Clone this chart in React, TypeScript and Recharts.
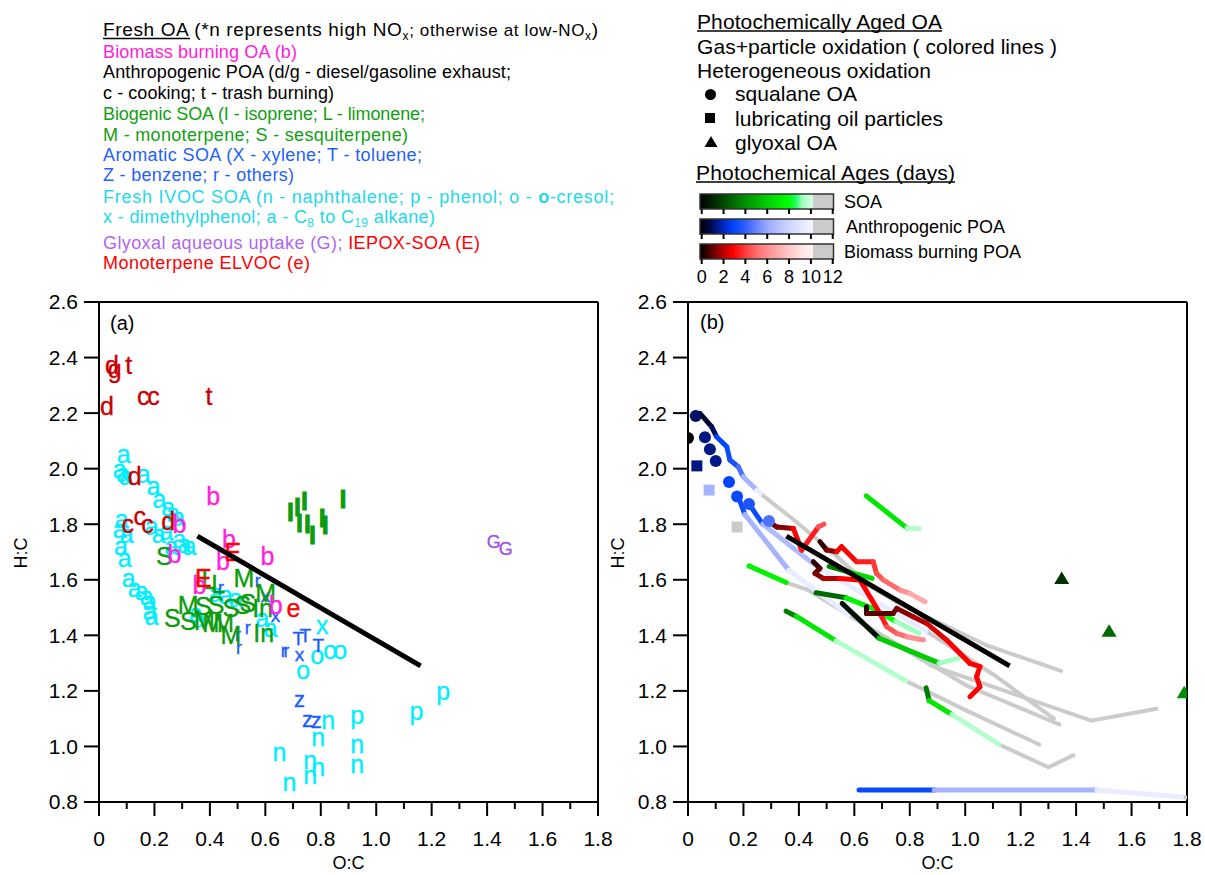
import React from 'react';
import { ScatterChart, Scatter, XAxis, YAxis, ReferenceLine } from 'recharts';

const FONT = '"Liberation Sans", Arial, Helvetica, sans-serif';

type L = [number, number, string];
type P = [number, number, number];

// ---------- Panel (a): fresh OA letters [O:C, H:C, letter] ----------
const ivocLetters: L[] = [
  [0.089, 2.052, 'a'], [0.075, 1.999, 'a'], [0.086, 1.985, 'a'], [0.097, 1.974, 'a'], [0.161, 1.981, 'a'],
  [0.197, 1.938, 'a'], [0.218, 1.891, 'a'], [0.25, 1.863, 'a'], [0.268, 1.841, 'a'], [0.286, 1.827, 'a'],
  [0.082, 1.82, 'a'], [0.075, 1.784, 'a'], [0.1, 1.766, 'a'], [0.19, 1.795, 'a'], [0.215, 1.766, 'a'],
  [0.243, 1.777, 'a'], [0.29, 1.748, 'a'], [0.308, 1.73, 'a'], [0.261, 1.723, 'a'], [0.326, 1.72, 'a'],
  [0.079, 1.72, 'a'], [0.093, 1.677, 'a'], [0.107, 1.605, 'a'], [0.129, 1.569, 'a'], [0.154, 1.559, 'a'],
  [0.172, 1.541, 'a'], [0.183, 1.523, 'a'], [0.183, 1.487, 'a'], [0.19, 1.469, 'a'],
  [0.422, 1.551, 'a'], [0.458, 1.544, 'a'], [0.494, 1.533, 'a'], [0.59, 1.462, 'a'], [0.619, 1.426, 'a'],
  [0.35, 1.48, 'a'], [0.36, 1.46, 'a'],
  [0.805, 1.437, 'x'],
  [0.787, 1.33, 'o'], [0.834, 1.347, 'o'], [0.87, 1.347, 'o'], [0.737, 1.276, 'o'],
  [0.931, 1.115, 'p'], [1.145, 1.129, 'p'], [1.242, 1.201, 'p'],
  [0.827, 1.094, 'n'], [0.791, 1.033, 'n'], [0.931, 1.008, 'n'], [0.651, 0.979, 'n'], [0.762, 0.95, 'n'],
  [0.791, 0.925, 'n'], [0.931, 0.936, 'n'], [0.762, 0.896, 'n'], [0.687, 0.871, 'n'],
];

const aromaticLetters: L[] = [
  [0.573, 1.594, 'r'], [0.44, 1.569, 'r'], [0.601, 1.544, 'x'], [0.637, 1.473, 'x'], [0.501, 1.401, 'r'],
  [0.505, 1.355, 'r'], [0.537, 1.426, 'r'], [0.719, 1.39, 'T'], [0.744, 1.4, 'T'], [0.666, 1.344, 'r'],
  [0.676, 1.344, 'r'], [0.723, 1.33, 'x'], [0.791, 1.362, 'T'],
  [0.723, 1.168, 'z'], [0.752, 1.097, 'z'], [0.784, 1.094, 'z'],
];

const biogenicLetters: L[] = [
  [0.691, 1.845, 'I'], [0.716, 1.863, 'I'], [0.723, 1.805, 'I'], [0.741, 1.884, 'I'], [0.752, 1.802, 'I'],
  [0.77, 1.763, 'I'], [0.805, 1.823, 'I'], [0.816, 1.798, 'I'], [0.88, 1.891, 'I'],
  [0.236, 1.687, 'S'], [0.395, 1.6, 'L'], [0.43, 1.585, 'L'],
  [0.523, 1.605, 'M'], [0.601, 1.551, 'M'],
  [0.322, 1.508, 'M'], [0.376, 1.505, 'S'], [0.422, 1.508, 'S'], [0.476, 1.498, 'S'], [0.519, 1.508, 'S'],
  [0.537, 1.515, 'S'], [0.59, 1.498, 'In'],
  [0.265, 1.462, 'S'], [0.322, 1.45, 'S'], [0.38, 1.451, 'M'], [0.41, 1.445, 'M'], [0.45, 1.445, 'M'],
  [0.476, 1.401, 'M'], [0.594, 1.408, 'In'],
];

const biomassLetters: L[] = [
  [0.412, 1.902, 'b'], [0.29, 1.802, 'b'], [0.272, 1.694, 'b'], [0.469, 1.748, 'b'], [0.447, 1.669, 'b'],
  [0.608, 1.684, 'b'], [0.362, 1.58, 'b'], [0.637, 1.508, 'b'],
];

const poaLetters: L[] = [
  [0.047, 2.375, 'd'], [0.057, 2.36, 'g'], [0.107, 2.375, 't'], [0.16, 2.26, 'c'], [0.197, 2.26, 'c'],
  [0.397, 2.26, 't'], [0.029, 2.224, 'd'], [0.129, 1.974, 'd'],
  [0.147, 1.83, 'c'], [0.104, 1.802, 'c'], [0.175, 1.802, 'c'], [0.25, 1.813, 'd'],
];

const iepoxLetters: L[] = [[0.483, 1.7, 'E'], [0.376, 1.605, 'E']];
const elvocLetters: L[] = [[0.701, 1.5, 'e']];
const glyoxalLetters: L[] = [[1.424, 1.737, 'G'], [1.467, 1.71, 'G']];

// reference line shown in both panels
const blackLine: [number, number][] = [[0.355, 1.757], [1.16, 1.29]];

// ---------- Panel (b): aging trajectories [O:C, H:C, age (days)] ----------
const anthroTrajs: P[][] = [
  [[0.043, 2.199, 0.5], [0.085, 2.151, 1.2], [0.103, 2.115, 3], [0.14, 2.079, 3.3], [0.151, 2.031, 3.5],
    [0.181, 2.007, 4.5], [0.199, 1.971, 6.5], [0.248, 1.923, 9.5], [0.26, 1.911, 11], [0.38, 1.817, 11],
    [0.52, 1.7, 11], [0.65, 1.58, 11], [0.76, 1.515, 11], [1.075, 1.365, 11], [1.346, 1.272, 11]],
  [[0.181, 1.9, 3.3], [0.205, 1.835, 6.5], [0.364, 1.634, 9.5], [0.58, 1.473, 11], [0.88, 1.29, 11],
    [1.455, 1.093, 11], [1.69, 1.136, 11]],
  [[0.22, 1.873, 3.3], [0.27, 1.8, 6.8], [0.462, 1.65, 9.5], [0.859, 1.415, 11], [1.1, 1.26, 11], [1.32, 1.1, 11]],
  [[0.617, 0.843, 3.2], [0.888, 0.843, 6.5], [1.475, 0.843, 9.5], [1.78, 0.818, 11], [1.8, 0.816, 11]],
];

const soaTrajs: P[][] = [
  [[0.643, 1.902, 7], [0.79, 1.786, 9.5], [0.834, 1.784, 11]],
  [[0.22, 1.65, 7.5], [0.354, 1.59, 11], [0.43, 1.565, 11], [0.7, 1.4, 11], [1.003, 1.22, 11], [1.34, 1.079, 11]],
  [[0.462, 1.553, 3], [0.57, 1.535, 7.5], [0.664, 1.498, 8], [0.75, 1.45, 9.2], [0.833, 1.408, 11]],
  [[0.509, 1.648, 3.5], [0.58, 1.628, 6.5], [0.664, 1.605, 11]],
  [[0.556, 1.515, 0.5], [0.689, 1.39, 6], [0.906, 1.3, 9.3], [0.978, 1.318, 11]],
  [[0.354, 1.487, 3.5], [0.39, 1.469, 7], [0.534, 1.38, 9.5], [0.786, 1.236, 11], [0.859, 1.2, 11],
    [1.003, 1.13, 11], [1.267, 1.007, 11]],
  [[0.859, 1.211, 3.5], [0.87, 1.165, 7], [0.952, 1.115, 9.5], [1.122, 1.007, 11], [1.3, 0.925, 11], [1.39, 0.968, 11]],
];

const biomassTrajs: P[][] = [
  [[0.29, 1.81, 0.8], [0.32, 1.79, 1.5], [0.38, 1.785, 3], [0.41, 1.707, 3.5], [0.47, 1.79, 4.5], [0.49, 1.8, 6]],
  [[0.476, 1.737, 0.5], [0.5, 1.707, 1.5], [0.536, 1.701, 3], [0.554, 1.719, 3], [0.608, 1.665, 3.5],
    [0.668, 1.665, 4], [0.68, 1.623, 4.5], [0.704, 1.6, 5], [0.765, 1.563, 6], [0.8, 1.551, 7], [0.855, 1.521, 8]],
  [[0.452, 1.665, 0.5], [0.476, 1.641, 1], [0.458, 1.623, 1.5], [0.488, 1.605, 2], [0.548, 1.605, 3],
    [0.62, 1.599, 3], [0.692, 1.479, 3.5], [0.717, 1.431, 4.5], [0.753, 1.407, 5], [0.789, 1.395, 6], [0.849, 1.383, 7]],
  [[0.644, 1.503, 0.5], [0.644, 1.479, 1], [0.74, 1.479, 1.2], [0.753, 1.497, 1.5], [0.812, 1.467, 2],
    [0.861, 1.443, 2.5], [0.933, 1.383, 3], [0.981, 1.335, 3], [1.017, 1.299, 3], [1.053, 1.287, 3],
    [1.041, 1.251, 3], [1.053, 1.215, 3], [1.017, 1.179, 3]],
];

// heterogeneous oxidation markers [O:C, H:C, age]
const squalaneCircles: P[] = [
  [0, 2.11, 0], [0.028, 2.19, 1.2], [0.061, 2.113, 1.5], [0.079, 2.07, 1.5], [0.1, 2.028, 1.6],
  [0.148, 1.952, 3], [0.177, 1.9, 3.2], [0.22, 1.873, 3.7], [0.292, 1.812, 4.6],
];
const lubOilSquares: P[] = [[0.032, 2.01, 1.5], [0.076, 1.923, 6.5], [0.177, 1.79, 11]];
const glyoxalTriangles: P[] = [[1.348, 1.605, 1.5], [1.519, 1.415, 3], [1.79, 1.193, 4]];

const xTicks = [0, 0.1, 0.2, 0.3, 0.4, 0.5, 0.6, 0.7, 0.8, 0.9, 1.0, 1.1, 1.2, 1.3, 1.4, 1.5, 1.6, 1.7, 1.8];
const yTicks = [0.8, 1.0, 1.2, 1.4, 1.6, 1.8, 2.0, 2.2, 2.4, 2.6];
const ageTicks = [0, 2, 4, 6, 8, 10, 12];

// ---------- colour maps ----------
type Stop = [number, string];
const soaStops: Stop[] = [[0, '#000000'], [1, '#002000'], [2, '#004400'], [3, '#006a00'], [4, '#008e00'], [5, '#00ae00'],
  [6, '#00cc00'], [7, '#00e800'], [8, '#00ff00'], [8.6, '#20ff60'], [9.2, '#a0ffc0'], [10, '#d0ffe0']];
const anthroStops: Stop[] = [[0, '#000000'], [1, '#000a50'], [2, '#0024b8'], [3, '#0044ff'], [4, '#2a5cff'], [5, '#6480ff'],
  [6, '#98a8ff'], [7, '#b4c0ff'], [8, '#ccd6ff'], [9, '#e0e6ff'], [10, '#f0f3ff']];
const bbStops: Stop[] = [[0, '#000000'], [1, '#5a0000'], [2, '#b00000'], [3, '#ff0000'], [4, '#ff3838'], [5, '#ff6a6a'],
  [6, '#ff8e8e'], [7, '#ffaaaa'], [8, '#ffc8c8'], [9, '#ffe0e0'], [10, '#fff2f2']];
const GRAY = '#cbcbcb';

const hex = (c: string) => [1, 3, 5].map((i) => parseInt(c.slice(i, i + 2), 16));
const mix = (c0: string, c1: string, t: number) => {
  const a = hex(c0), b = hex(c1);
  return '#' + a.map((v, i) => Math.round(v + (b[i] - v) * t).toString(16).padStart(2, '0')).join('');
};
const cmap = (stops: Stop[], age: number) => {
  if (age >= 10.2) return GRAY;
  if (age <= stops[0][0]) return stops[0][1];
  for (let i = 0; i < stops.length - 1; i++) {
    const [a0, c0] = stops[i];
    const [a1, c1] = stops[i + 1];
    if (age <= a1) return mix(c0, c1, (age - a0) / (a1 - a0));
  }
  return stops[stops.length - 1][1];
};

type Seg = { key: string; gray: boolean; color: string; data: { x: number; y: number }[] };
const buildSegments = (name: string, trajs: P[][], stops: Stop[]): Seg[] => {
  const out: Seg[] = [];
  trajs.forEach((t, ti) => {
    for (let i = 0; i < t.length - 1; i++) {
      const age = t[i][2];
      out.push({
        key: `${name}-${ti}-${i}`,
        gray: age >= 10.2,
        color: cmap(stops, age),
        data: [{ x: t[i][0], y: t[i][1] }, { x: t[i + 1][0], y: t[i + 1][1] }],
      });
    }
  });
  return out;
};

const toPts = (arr: L[]) => arr.map(([x, y, t]) => ({ x, y, t }));
const toAgePts = (arr: P[]) => arr.map(([x, y, age]) => ({ x, y, age }));
const blackData = blackLine.map(([x, y]) => ({ x, y }));

const EmptyShape = () => <g />;

const letterShape = (color: string, sizes: Record<string, number>, base: number) => (props: any) => {
  const { cx, cy, payload } = props;
  const t = payload.t as string;
  const bar = t === 'I';
  return (
    <text x={cx} y={cy} textAnchor="middle" dominantBaseline="central" fill={color}
      fontSize={sizes[t] ?? base} fontFamily={FONT} fontWeight={bar ? 'bold' : 'normal'}
      stroke={color} strokeWidth={bar ? 0.9 : 0.35}>
      {t}
    </text>
  );
};

const XTick = (props: any) => {
  const { x, y, payload } = props;
  const v = payload.value as number;
  const major = Math.round(v * 10) % 2 === 0;
  return (
    <g>
      <line x1={x} x2={x} y1={y} y2={y + (major ? 14 : 7)} stroke="#000" strokeWidth={2} />
      {major && (
        <text x={x} y={y + 44} textAnchor="middle" fontSize={21} fontFamily={FONT} fill="#000">
          {v === 0 ? '0' : v.toFixed(1)}
        </text>
      )}
    </g>
  );
};

const axes = (yWidth: number) => [
  <XAxis key="x" type="number" dataKey="x" domain={[0, 1.8]} ticks={xTicks} interval={0} allowDataOverflow
    tickSize={0} tickMargin={0} tickLine={false} tick={<XTick />} height={60}
    axisLine={{ stroke: '#000', strokeWidth: 2 }} />,
  <YAxis key="y" type="number" dataKey="y" domain={[0.8, 2.6]} ticks={yTicks} interval={0} allowDataOverflow
    width={yWidth} tickSize={15} tickMargin={6} tickFormatter={(v: number) => v.toFixed(1)}
    tick={{ fill: '#000', fontSize: 21, fontFamily: FONT }}
    tickLine={{ stroke: '#000', strokeWidth: 2 }} axisLine={{ stroke: '#000', strokeWidth: 2 }} />,
  <ReferenceLine key="top" y={2.6} stroke="#000" strokeWidth={2} />,
  <ReferenceLine key="right" x={1.8} stroke="#000" strokeWidth={2} />,
];

const letterGroups = [
  { name: 'ivoc', data: ivocLetters, color: '#00eeff', sizes: {} as Record<string, number>, base: 25 },
  { name: 'arom', data: aromaticLetters, color: '#1a5cff', sizes: { r: 18, x: 19, T: 19, z: 22 }, base: 19 },
  { name: 'bio', data: biogenicLetters, color: '#0c9c0c', sizes: {}, base: 25 },
  { name: 'bb', data: biomassLetters, color: '#ff22dd', sizes: {}, base: 25 },
  { name: 'poa', data: poaLetters, color: '#cc0000', sizes: {}, base: 25 },
  { name: 'iepox', data: iepoxLetters, color: '#ff0000', sizes: {}, base: 25 },
  { name: 'elvoc', data: elvocLetters, color: '#ff0000', sizes: {}, base: 25 },
  { name: 'gly', data: glyoxalLetters, color: '#a050e8', sizes: {}, base: 18 },
];

const PanelA = () => (
  <ScatterChart width={620} height={875} margin={{ top: 302, right: 22, bottom: 13, left: 0 }}>
    {axes(99)}
    {letterGroups.map((g) => (
      <Scatter key={g.name} data={toPts(g.data)} isAnimationActive={false}
        shape={letterShape(g.color, g.sizes, g.base)} />
    ))}
    <Scatter data={blackData} isAnimationActive={false} shape={EmptyShape}
      line={{ stroke: '#000', strokeWidth: 5 }} />
  </ScatterChart>
);

const PanelB = () => {
  const segs = [
    ...buildSegments('anthro', anthroTrajs, anthroStops),
    ...buildSegments('soa', soaTrajs, soaStops),
    ...buildSegments('bb', biomassTrajs, bbStops),
  ];
  const grays = segs.filter((s) => s.gray);
  const colored = segs.filter((s) => !s.gray);
  return (
    <ScatterChart width={585} height={875} margin={{ top: 302, right: 18, bottom: 13, left: 0 }}>
      {axes(68)}
      {grays.map((s) => (
        <Scatter key={s.key} data={s.data} isAnimationActive={false} shape={EmptyShape}
          line={{ stroke: s.color, strokeWidth: 4, strokeLinecap: 'round' }} />
      ))}
      {colored.map((s) => (
        <Scatter key={s.key} data={s.data} isAnimationActive={false} shape={EmptyShape}
          line={{ stroke: s.color, strokeWidth: 5, strokeLinecap: 'round' }} />
      ))}
      <Scatter data={blackData} isAnimationActive={false} shape={EmptyShape}
        line={{ stroke: '#000', strokeWidth: 5 }} />
      <Scatter data={toAgePts(squalaneCircles)} isAnimationActive={false}
        shape={(p: any) => <circle cx={p.cx} cy={p.cy} r={6} fill={cmap(anthroStops, p.payload.age)} />} />
      <Scatter data={toAgePts(lubOilSquares)} isAnimationActive={false}
        shape={(p: any) => <rect x={p.cx - 5.5} y={p.cy - 5.5} width={11} height={11} fill={cmap(anthroStops, p.payload.age)} />} />
      <Scatter data={toAgePts(glyoxalTriangles)} isAnimationActive={false}
        shape={(p: any) => (
          <polygon points={`${p.cx},${p.cy - 7} ${p.cx - 7.5},${p.cy + 5.5} ${p.cx + 7.5},${p.cy + 5.5}`}
            fill={cmap(soaStops, p.payload.age)} />
        )} />
    </ScatterChart>
  );
};

const barStops = (stops: Stop[]) => (
  <>
    {stops.map(([a, c], i) => <stop key={i} offset={a / 12} stopColor={c} />)}
    <stop offset={10.2 / 12} stopColor={stops[stops.length - 1][1]} />
    <stop offset={10.2 / 12} stopColor={GRAY} />
    <stop offset={1} stopColor={GRAY} />
  </>
);

const Overlay = () => {
  const T = { fontFamily: FONT, fill: '#000' } as const;
  const bars = [
    { id: 'gSoa', stops: soaStops, y: 194, label: 'SOA', lx: 844 },
    { id: 'gAnthro', stops: anthroStops, y: 219, label: 'Anthropogenic POA', lx: 846 },
    { id: 'gBb', stops: bbStops, y: 244, label: 'Biomass burning POA', lx: 844 },
  ];
  return (
    <svg width={1205} height={875} style={{ position: 'absolute', left: 0, top: 0, pointerEvents: 'none' }}>
      <defs>
        {bars.map((b) => (
          <linearGradient key={b.id} id={b.id} x1="0" x2="1" y1="0" y2="0">{barStops(b.stops)}</linearGradient>
        ))}
      </defs>
      {/* left legend */}
      <g fontFamily={FONT} fontSize={18}>
        <text x={103} y={36} fontSize={19} textLength={495} lengthAdjust="spacing" fill="#000">
          <tspan>Fresh OA (*n represents high NO</tspan>
          <tspan fontSize={12} dy={4}>x</tspan>
          <tspan fontSize={17} dy={-4}>; otherwise at low-NO</tspan>
          <tspan fontSize={12} dy={4}>x</tspan>
          <tspan dy={-4}>)</tspan>
        </text>
        <line x1={103} x2={190} y1={38.5} y2={38.5} stroke="#000" strokeWidth={1.3} />
        <text x={103} y={58} textLength={194} fill="#ff21d8">Biomass burning OA (b)</text>
        <text x={103} y={78} textLength={408} fill="#000">Anthropogenic POA (d/g - diesel/gasoline exhaust;</text>
        <text x={103} y={99} textLength={231} fill="#000">c - cooking; t - trash burning)</text>
        <text x={103} y={120} textLength={322} fill="#12a012">Biogenic SOA (I - isoprene; L - limonene;</text>
        <text x={103} y={141} textLength={305} fill="#12a012">M - monoterpene; S - sesquiterpene)</text>
        <text x={103} y={161} textLength={319} fill="#1f5fff">Aromatic SOA (X - xylene; T - toluene;</text>
        <text x={103} y={181} textLength={191} fill="#1f5fff">Z - benzene; r - others)</text>
        <text x={103} y={202.5} textLength={511} fill="#22d8e8">
          <tspan>Fresh IVOC SOA (n - naphthalene; p - phenol; o - </tspan>
          <tspan fontWeight="bold">o</tspan>
          <tspan>-cresol;</tspan>
        </text>
        <text x={103} y={222.5} textLength={332} fill="#22d8e8">
          <tspan>x - dimethylphenol; a - C</tspan>
          <tspan fontSize={12} dy={4}>8</tspan>
          <tspan dy={-4}> to C</tspan>
          <tspan fontSize={12} dy={4}>19</tspan>
          <tspan dy={-4}> alkane)</tspan>
        </text>
        <text x={103} y={249} textLength={377}>
          <tspan fill="#b066f0">Glyoxal aqueous uptake (G); </tspan>
          <tspan fill="#ff0000">IEPOX-SOA (E)</tspan>
        </text>
        <text x={103} y={269} textLength={207} fill="#ff0000">Monoterpene ELVOC (e)</text>
      </g>
      {/* right legend */}
      <g fontFamily={FONT} fontSize={21} fill="#000">
        <text x={697} y={28.5} textLength={245}>Photochemically Aged OA</text>
        <line x1={697} x2={942} y1={31} y2={31} stroke="#000" strokeWidth={1.4} />
        <text x={697} y={54} textLength={360}>Gas+particle oxidation ( colored lines )</text>
        <text x={697} y={77.5} textLength={234}>Heterogeneous oxidation</text>
        <circle cx={710.5} cy={94.5} r={5.5} fill="#000" />
        <text x={735} y={101} textLength={122}>squalane OA</text>
        <rect x={705} y={113} width={10} height={10} fill="#000" />
        <text x={735} y={125.5} textLength={208}>lubricating oil particles</text>
        <polygon points="711,136 704.5,147 717.5,147" fill="#000" />
        <text x={735} y={149.5} textLength={102}>glyoxal OA</text>
        <text x={696} y={179.5} textLength={259}>Photochemical Ages (days)</text>
        <line x1={696} x2={955} y1={182} y2={182} stroke="#000" strokeWidth={1.4} />
      </g>
      {bars.map((b) => (
        <g key={b.id}>
          <rect x={700} y={b.y} width={133.5} height={15} fill={`url(#${b.id})`} stroke="#333" strokeWidth={1.5} />
          {ageTicks.map((a) => (
            <line key={a} x1={701.7 + a * 10.92} x2={701.7 + a * 10.92} y1={b.y + 15} y2={b.y + 20}
              stroke="#000" strokeWidth={2} />
          ))}
          <text x={b.lx} y={b.y + 14} fontSize={18} {...T}>{b.label}</text>
        </g>
      ))}
      {ageTicks.map((a) => (
        <text key={a} x={701.7 + a * 10.92} y={283} textAnchor="middle" fontSize={18} {...T}>{a}</text>
      ))}
      {/* axis titles & panel labels */}
      <text x={110} y={330} fontSize={20} {...T}>(a)</text>
      <text x={700} y={329} fontSize={20} {...T}>(b)</text>
      <text x={348.5} y={869} textAnchor="middle" fontSize={18} {...T}>O:C</text>
      <text x={937.5} y={869} textAnchor="middle" fontSize={18} {...T}>O:C</text>
      <text transform="translate(27,553) rotate(-90)" textAnchor="middle" fontSize={18} {...T}>H:C</text>
      <text transform="translate(624,553) rotate(-90)" textAnchor="middle" fontSize={18} {...T}>H:C</text>
    </svg>
  );
};

export default function App() {
  return (
    <div style={{ position: 'absolute', left: 0, top: 0, width: 1205, height: 875, background: '#fff', fontFamily: FONT }}>
      <div style={{ position: 'absolute', left: 0, top: 0 }}><PanelA /></div>
      <div style={{ position: 'absolute', left: 620, top: 0 }}><PanelB /></div>
      <Overlay />
    </div>
  );
}
